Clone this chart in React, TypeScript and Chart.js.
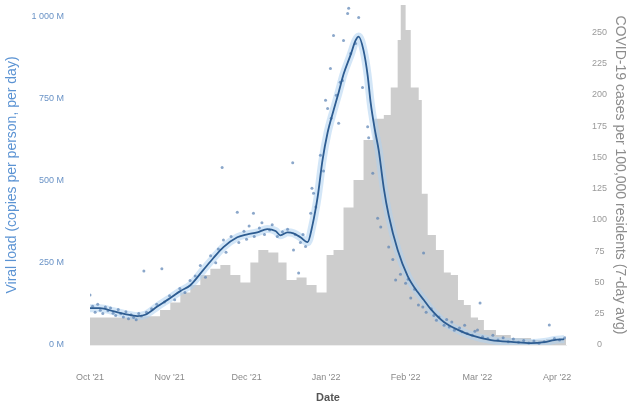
import { useEffect, useRef } from 'react';
import { Chart, registerables } from 'chart.js';

Chart.register(...registerables);
Chart.defaults.font.family = 'Arial, "Liberation Sans", sans-serif';

// Days are counted from 1 Oct 2021
const monthTickDays = [0, 31, 61, 92, 123, 151, 182];
const monthTickLabels = ["Oct '21", "Nov '21", "Dec '21", "Jan '22", "Feb '22", "Mar '22", "Apr '22"];

const viralTickValues = [0, 250, 500, 750, 1000];
const viralTickLabels = ['0 M', '250 M', '500 M', '750 M', '1 000 M'];

const caseTickValues = [0, 25, 50, 75, 100, 125, 150, 175, 200, 225, 250];

// COVID-19 cases per 100,000 (7-day avg), stepped
const caseDays = [0, 15.6, 27.3, 31.3, 35.2, 39.1, 43, 46.9, 50.8, 54.7, 58.6, 62.5, 65.6, 69.5, 73.4, 76.6, 80.5, 84.4, 88.3, 92.2, 94.9, 98.8, 102.7, 106.6, 110.5, 114.5, 117.2, 119.9, 121.1, 123, 125, 128.1, 129.3, 131.6, 134.8, 137.9, 140.6, 143.4, 145.7, 148.4, 151.2, 153.5, 158.2, 164, 171.9, 177.7, 185.5];
const caseValues = [22, 23, 28, 34, 42, 48, 56, 61, 64, 56, 50, 66, 76, 74, 66, 52, 54, 48, 42, 72, 76, 110, 132, 164, 181, 184, 206, 244, 272, 252, 206, 196, 121, 88, 76, 58, 56, 36, 32, 22, 20, 12, 8, 5.6, 4, 4.8, 4.8];

// Smoothed viral load trend (millions of copies per person per day)
const trendDays = [0, 3.9, 9, 13.7, 18.4, 21.5, 26.2, 31.3, 35.2, 39.1, 44.1, 48, 52, 57.4, 61.3, 65.2, 69.1, 72.3, 74.2, 77, 79.3, 82, 84.8, 86.7, 88.7, 90.6, 92.6, 94.9, 96.9, 98.8, 101.6, 103.5, 104.7, 106.6, 108.2, 109.4, 110.9, 112.5, 114.5, 116.4, 119.9, 123.8, 127.7, 130.1, 132.8, 137.9, 143.4, 148.4, 156.3, 165.2, 171.9, 177, 180.9, 184.8];
const trendValues = [112, 112, 103, 94, 88, 92, 117, 143, 164, 182, 228, 264, 298, 328, 337, 343, 353, 347, 334, 343, 340, 328, 313, 365, 450, 562, 647, 714, 769, 824, 884, 927, 939, 897, 821, 736, 660, 593, 477, 395, 289, 210, 161, 137, 109, 70, 46, 30, 15, 9, 6, 9, 15, 18];

// Individual samples (millions of copies per person per day)
const sampleDays = [0, 1, 2, 3, 4, 5, 6, 7, 8, 9, 10, 11, 12, 13, 14, 15, 16, 17, 18, 19, 20, 21, 22, 24, 26, 28, 29, 31, 33, 35, 37, 39, 41, 43, 45, 47, 49, 50, 51.5, 52, 53, 55, 57.4, 58, 60, 61, 62, 63.7, 64, 66, 67, 68, 70, 71, 73, 75, 77, 79, 79.3, 80, 81.3, 82, 83, 84, 86, 86.5, 87.1, 88, 89.8, 91, 91.8, 92.6, 93.7, 94, 94.9, 96, 96.9, 97.5, 98.4, 98.8, 100.4, 100.8, 101.6, 103.5, 104.7, 106.2, 108.2, 108.6, 110.2, 112.1, 113.3, 116.4, 118, 119.1, 121, 123, 124, 125, 126.5, 128, 129.7, 130, 131, 133, 134, 135, 136, 138, 139, 140, 141, 142, 144, 145, 146, 147, 149, 150, 151, 152, 153, 155, 157, 159, 161, 163, 165, 167, 169, 171, 173, 175, 177, 179, 181, 183, 185];
const sampleValues = [152, 118, 100, 124, 106, 96, 116, 104, 113, 97, 90, 108, 95, 85, 101, 80, 92, 84, 77, 96, 88, 225, 100, 110, 124, 232, 131, 150, 138, 172, 160, 196, 210, 242, 206, 272, 250, 292, 540, 320, 282, 330, 404, 312, 346, 322, 362, 401, 330, 356, 372, 336, 350, 366, 330, 345, 352, 555, 289, 336, 219, 312, 336, 300, 401, 477, 462, 420, 578, 530, 745, 720, 842, 690, 942, 760, 675, 800, 805, 927, 1009, 1025, 887, 918, 997, 784, 664, 631, 523, 386, 359, 298, 260, 198, 215, 188, 200, 143, 170, 122, 116, 280, 100, 110, 90, 75, 85, 60, 78, 55, 70, 45, 52, 40, 60, 35, 30, 42, 46, 128, 25, 20, 30, 15, 22, 10, 18, 8, 14, 6, 12, 5, 10, 61, 20, 15, 22];

const pts = (xs: number[], ys: number[]) => xs.map((x, i) => ({ x, y: ys[i] }));

export default function App() {
  const ref = useRef<HTMLCanvasElement>(null);

  useEffect(() => {
    const chart = new Chart(ref.current as HTMLCanvasElement, {
      type: 'line',
      data: {
        datasets: [
          {
            label: 'Cases',
            data: pts(caseDays, caseValues),
            yAxisID: 'y2',
            stepped: true,
            fill: 'origin',
            backgroundColor: '#cdcdcd',
            borderWidth: 0,
            pointRadius: 0,
            order: 4,
          },
          {
            label: 'Band',
            data: pts(trendDays, trendValues),
            yAxisID: 'y',
            borderColor: 'rgba(175, 210, 240, 0.55)',
            borderWidth: 8,
            pointRadius: 0,
            cubicInterpolationMode: 'monotone',
            fill: false,
            order: 3,
          },
          {
            label: 'Samples',
            data: pts(sampleDays, sampleValues),
            yAxisID: 'y',
            showLine: false,
            pointRadius: 1.5,
            pointBackgroundColor: 'rgba(90, 130, 180, 0.7)',
            pointBorderWidth: 0,
            order: 2,
          },
          {
            label: 'Viral load',
            data: pts(trendDays, trendValues),
            yAxisID: 'y',
            borderColor: '#2d5c91',
            borderWidth: 1.8,
            pointRadius: 0,
            cubicInterpolationMode: 'monotone',
            fill: false,
            order: 1,
          },
        ],
      },
      options: {
        responsive: false,
        animation: false,
        layout: { padding: { top: 5, left: 0, right: 0, bottom: 0 } },
        plugins: { legend: { display: false }, tooltip: { enabled: false } },
        scales: {
          x: {
            type: 'linear',
            min: 0,
            max: 185.5,
            grid: { display: false, drawTicks: false },
            border: { display: true, color: '#eeeeee' },
            afterBuildTicks: (s: any) => {
              s.ticks = monthTickDays.map((v) => ({ value: v }));
            },
            afterFit: (s: any) => {
              s.height = 62;
            },
            ticks: {
              autoSkip: false,
              maxRotation: 0,
              padding: 27,
              color: '#8a8a8a',
              font: { size: 9 },
              callback: (_v: any, i: number) => monthTickLabels[i],
            },
            title: {
              display: true,
              text: 'Date',
              color: '#555555',
              font: { size: 11, weight: 'bold' },
              padding: { top: 0, bottom: 2 },
            },
          },
          y: {
            position: 'left',
            min: 0,
            max: 1035,
            grid: { display: false, drawTicks: false },
            border: { display: false },
            afterBuildTicks: (s: any) => {
              s.ticks = viralTickValues.map((v) => ({ value: v }));
            },
            afterFit: (s: any) => {
              s.width = 90;
              s.paddingTop = 0;
              s.paddingBottom = 0;
            },
            ticks: {
              padding: 26,
              color: '#6a93c6',
              font: { size: 9 },
              callback: (_v: any, i: number) => viralTickLabels[i],
            },
            title: {
              display: true,
              text: 'Viral load (copies per person, per day)',
              color: '#5b93d3',
              font: { size: 14 },
              padding: { top: 4, bottom: 0 },
            },
          },
          y2: {
            position: 'right',
            min: 0,
            max: 272,
            grid: { display: false, drawTicks: false },
            border: { display: false },
            afterBuildTicks: (s: any) => {
              s.ticks = caseTickValues.map((v) => ({ value: v }));
            },
            afterFit: (s: any) => {
              s.width = 62;
              s.paddingTop = 0;
              s.paddingBottom = 0;
            },
            ticks: {
              padding: 26,
              crossAlign: 'center',
              color: '#9a9a9a',
              font: { size: 9 },
              callback: (_v: any, i: number) => String(caseTickValues[i]),
            },
            title: {
              display: true,
              text: 'COVID-19 cases per 100,000 residents (7-day avg)',
              color: '#8c8c8c',
              font: { size: 14 },
              padding: { top: 0, bottom: 0 },
            },
          },
        },
      },
    } as any);
    return () => chart.destroy();
  }, []);

  return (
    <div style={{ position: 'fixed', left: 0, top: 0, width: 628, height: 407, background: '#ffffff' }}>
      <canvas ref={ref} width={628} height={407} style={{ display: 'block' }} />
    </div>
  );
}
